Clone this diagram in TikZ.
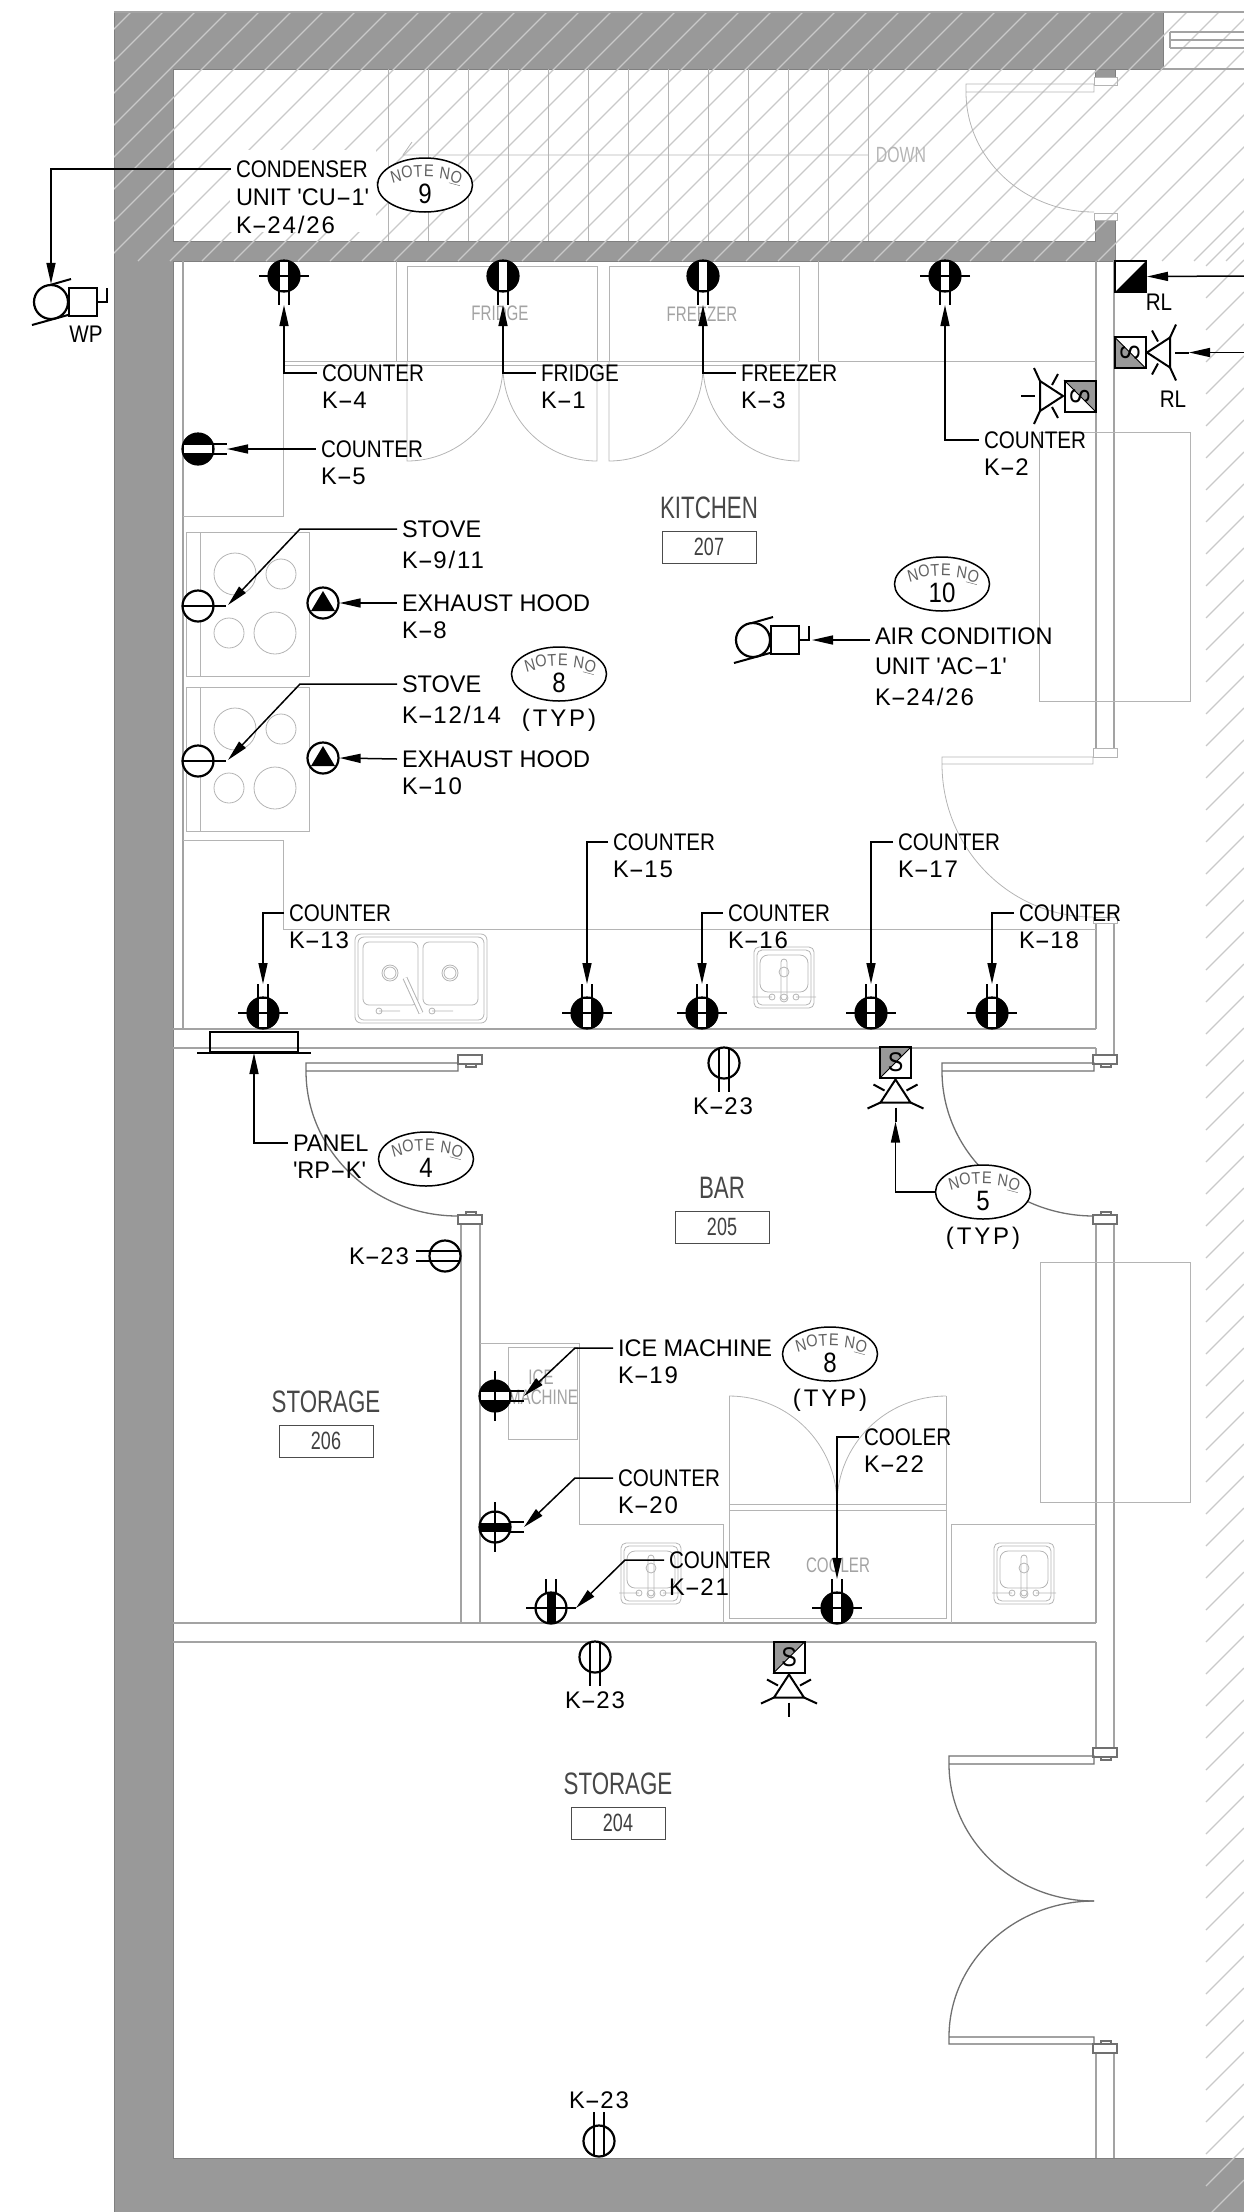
\documentclass[tikz,border=0pt]{standalone}
\usepackage{fontspec}
\setmainfont{Liberation Sans}
\newfontfamily\cadfont[FakeStretch=0.86]{Liberation Sans}
\newfontfamily\cadw[FakeStretch=0.98]{Liberation Sans}
\newfontfamily\cadnum[LetterSpace=8]{Liberation Sans}
\newfontfamily\typfont[LetterSpace=12]{Liberation Sans}
\newfontfamily\tagfont[FakeStretch=0.72]{Liberation Sans}
\usetikzlibrary{arrows.meta,positioning,shapes.geometric}
\definecolor{wallgrey}{HTML}{999999}
\definecolor{wallrim}{HTML}{7F7F7F}
\definecolor{hatchgrey}{HTML}{C9C9C9}
\definecolor{roomgrey}{HTML}{A3A3A3}
\definecolor{thingrey}{HTML}{B4B4B4}
\definecolor{doorgrey}{HTML}{707070}
\tikzset{
  hatchln/.style={draw=hatchgrey,line width=1.2pt},
  roomln/.style={draw=roomgrey,line width=1.3pt},
  thinln/.style={draw=thingrey,line width=.8pt},
  doorln/.style={draw=doorgrey,line width=1.3pt},
  sym/.style={draw=black,line width=2pt},
  lead/.style={draw=black,line width=1.5pt,-{Triangle[length=21pt,width=9pt]}},
  lbl/.style={anchor=west,inner sep=0pt,outer xsep=5pt,font=\cadfont\fontsize{24}{27}\selectfont},
  ctrlbl/.style={lbl,anchor=center,outer xsep=0pt},
  roomlbl/.style={inner sep=0pt,text=black!72,font=\tagfont\fontsize{31}{31}\selectfont},
  taglbl/.style={inner sep=0pt,text=black!75,font=\tagfont\fontsize{25}{25}\selectfont},
  faintlbl/.style={inner sep=0pt,text=roomgrey,font=\tagfont\fontsize{21}{21}\selectfont},
  tagbox/.style={draw=black!70,line width=.9pt},
  noteoval/.style={ellipse,draw=black,line width=1.5pt,fill=white,minimum width=95pt,minimum height=54pt,inner sep=0pt},
  notelet/.style={inner sep=0pt,text=black!62,font=\cadfont\fontsize{17}{17}\selectfont},
  notenum/.style={inner sep=0pt,font=\cadfont\fontsize{28}{28}\selectfont},
  rcp/.style={circle,draw=black,line width=2.2pt,fill=white,minimum size=31pt,inner sep=0pt},
  fixbox/.style={rectangle,draw=black,line width=2pt,minimum size=31pt,inner sep=0pt},
}
% long dash of the drawing's lettering, circuit numbers
\newcommand{\hy}{\scalebox{2}[1]{-}}
\newcommand{\kk}[1]{{\cadw K\hy{\cadnum #1}}}
\newcommand{\typ}{{\typfont (TYP)}}
% filled receptacle with a white strip, black band, cross line
\newcommand{\strip}{\fill (0,0) circle (15.5pt); \fill[white] (-4,-14) rectangle (4,14);}
\newcommand{\band}{\fill (-4.5,-15) rectangle (4.5,15);}
\newcommand{\crossln}{\draw[sym] (-25,0) -- (25,0);}
\newcommand{\tails}[1]{\draw[sym] (-5,#1) -- (-5,-29) (5,#1) -- (5,-29);}
% name, x, y, rotation, inner drawing
\newcommand{\recep}[5]{
  \begin{scope}[shift={(#2,#3)},rotate=#4]
    \node[rcp] (#1) at (0,0) {};
    #5
    \tails{-15}
    \coordinate (#1t) at (0,-29);
  \end{scope}
}
\newcommand{\twinline}[4]{
  \begin{scope}[shift={(#2,#3)},rotate=#4]
    \node[rcp] (#1) at (0,0) {};
    \tails{14}
  \end{scope}
}
\newcommand{\stovercp}[3]{
  \node[rcp] (#1) at (#2,#3) {};
  \draw[sym] (#2-15,#3) -- (#2+28,#3);
}
\newcommand{\hood}[3]{
  \node[rcp] (#1) at (#2,#3) {};
  \fill (#2,#3-12) -- (#2-12,#3+8) -- (#2+12,#3+8) -- cycle;
}
\newcommand{\motor}[3]{
  \begin{scope}[shift={(#2,#3)}]
    \node[rcp,minimum size=34pt] (#1) at (0,0) {};
    \node[fixbox,minimum size=28pt] (#1b) at (32,0) {};
    \draw[sym] (-1,-17) -- (20,-23) (-19,23) -- (17,13);
    \draw[sym] (46,0) -- (56,0) -- (56,-14);
    \coordinate (#1t) at (59,0);
  \end{scope}
}
\newcommand{\fixture}[4]{
  \begin{scope}[shift={(#2,#3)},rotate=#4]
    \fill[wallgrey] (-16,-16) -- (16,-16) -- (-16,16) -- cycle;
    \node[fixbox] (#1) at (0,0) {};
    \draw[black,line width=.9pt] (-16,16) -- (16,-16);
    \node[inner sep=0pt,transform shape,font=\cadfont\fontsize{27}{27}\selectfont] (#1s) at (0,0) {S};
    \draw[sym] (0,17) -- (-15,40) -- (15,40) -- cycle;
    \draw[sym] (-28,46) -- (-15,40) (28,46) -- (15,40) (-22,22) -- (-11,28) (22,22) -- (11,28);
    \draw[sym] (0,45) -- (0,59);
    \coordinate (#1t) at (0,59);
  \end{scope}
}
\newcommand{\notemark}[4]{
  \node[noteoval] (#1) at (#2,#3) {};
  \begin{scope}[shift={(#2,#3)}]
    \foreach \lx/\ly/\lr/\lc [count=\ci] in {-29/-9/15/N,-18/-13/8/O,-7/-14/3/T,4/-14/-2/E,20/-12/-8/N,31/-7/-15/{\underline{O}}}
      \node[notelet,rotate=\lr] (#1let\ci) at (\lx,\ly) {\lc};
    \node[notenum] (#1num) at (0,9) {#4};
  \end{scope}
}
% two lines of text, the first one carries the leader
\newcommand{\twolab}[5]{
  \node[lbl] (#1l) at (#2,#3) {#4};
  \node[lbl] (#1m) at (#2,#3+27) {#5};
}
\newcommand{\roomtag}[5]{
  \node[roomlbl] (#1l) at (#2,#3) {#4};
  \node[tagbox,minimum width=94pt,minimum height=32pt,inner sep=0pt,taglbl] (#1) at (#2,#3+39) {#5};
}
\newcommand{\stove}[1]{
  \begin{scope}[shift={(0,#1)}]
    \draw[thinln] (186,532) rectangle (309,676) (200,532) -- (200,676);
    \draw[thinln] (235,574) circle (21pt) (281,574) circle (15pt) (229,633) circle (15pt) (275,633) circle (21pt);
  \end{scope}
}
\newcommand{\sinkone}[2]{
  \begin{scope}[shift={(#1,#2)}]
    \draw[thinln,rounded corners=5pt] (-30,-31) rectangle (30,30) (-27,-28) rectangle (27,27);
    \draw[thinln,rounded corners=8pt] (-24,-23) rectangle (24,14);
    \draw[thinln,rounded corners=3pt] (-3,-19) rectangle (3,22);
    \draw[thinln] (0,-6) circle (5pt) (0,20) circle (4pt);
    \draw[thinln] (-32,19) -- (-12,19) (12,19) -- (32,19) (-12,19) circle (3pt) (12,19) circle (3pt);
  \end{scope}
}
\newcommand{\jamb}[3]{
  \draw[doorln] (#1-12,#2) rectangle (#1+12,#2+9);
  \draw[doorln] (#1-4,#2+#3) rectangle (#1+6,#2+#3+3);
}
\begin{document}
\begin{tikzpicture}[x=1pt,y=-1pt]
  \useasboundingbox (0,0) rectangle (1244,2212);
  % walls
  \filldraw[fill=wallgrey,draw=wallrim,line width=1pt] (114,12) -- (1163,12) -- (1163,69) -- (173,69) -- (173,241)
    -- (1095,241) -- (1095,220) -- (1115,220) -- (1115,261) -- (173,261) -- (173,2158) -- (1244,2158)
    -- (1244,2212) -- (114,2212) -- cycle;
  \filldraw[fill=wallgrey,draw=wallrim,line width=1pt] (1095,69) rectangle (1115,77);
  % hatching
  \begin{scope}
    \clip (114,12) rectangle (1244,261);
    \foreach \c in {143,175,...,1527}
      \draw[hatchln] (\c-12,12) -- (\c-261,261);
  \end{scope}
  \foreach \c in {1472,1504,...,3456}
    \draw[hatchln] (1206,\c-1206) -- (1244,\c-1244);
  \fill[white] (230,150) rectangle (376,232);
  \draw[roomln] (114,12) -- (1244,12) (1163,69) -- (1244,69) (1170,32) -- (1244,32) (1170,40) -- (1244,40) (1170,48) -- (1244,48) (1170,32) -- (1170,48);
  % stairs
  \foreach \s in {388,428,...,868}
    \draw[thinln] (\s,69) -- (\s,241);
  \draw[thinln] (412,142) -- (403,155) -- (868,155);
  \node[inner sep=0pt,text=thingrey,font=\tagfont\fontsize{22}{22}\selectfont] (downtxt) at (901,155) {DOWN};
  % partitions
  \draw[roomln] (173,1029) -- (1096,1029) (173,1048) -- (1096,1048) (173,1623) -- (1096,1623) (173,1642) -- (1096,1642);
  \draw[roomln] (183,261) -- (183,1029);
  \draw[roomln] (1096,261) -- (1096,748) (1114,261) -- (1114,748) (1096,923) -- (1096,1029) (1114,923) -- (1114,1055);
  \draw[roomln] (1096,1048) -- (1096,1055) (1096,1224) -- (1096,1623) (1114,1224) -- (1114,1748) (1096,1642) -- (1096,1748);
  \draw[roomln] (1096,2053) -- (1096,2158) (1114,2053) -- (1114,2158);
  \draw[roomln] (461,1224) -- (461,1623) (480,1224) -- (480,1623);
  % kitchen counters and fittings
  \draw[thinln] (183,516) -- (283,516) -- (283,361) -- (396,361) -- (396,261);
  \draw[thinln] (183,840) -- (283,840) -- (283,929) -- (1096,929);
  \draw[thinln] (283,365) -- (799,365) (396,361) -- (799,361) (818,261) -- (818,361) -- (1096,361);
  \draw[thinln] (407,361) -- (407,266) -- (597,266) -- (597,361) (609,361) -- (609,266) -- (799,266) -- (799,361);
  \draw[thinln] (407,361) -- (407,461) arc[start angle=270,end angle=360,radius=96pt] (597,365) -- (597,461) arc[start angle=270,end angle=180,radius=94pt];
  \draw[thinln] (609,361) -- (609,461) arc[start angle=270,end angle=360,radius=94pt] (799,365) -- (799,461) arc[start angle=270,end angle=180,radius=96pt];
  \draw[thinln] (1039,432) rectangle (1190,701) (1040,1262) rectangle (1190,1502);
  \stove{0}
  \stove{155}
  \begin{scope}[thinln]
    \draw[rounded corners=6pt] (355,934) rectangle (487,1023) (358,937) rectangle (484,1020);
    \draw[rounded corners=6pt] (363,942) rectangle (418,1005) (423,942) rectangle (478,1005);
    \draw (390,973) circle (8pt) (390,973) circle (6pt) (450,973) circle (8pt) (450,973) circle (6pt);
    \draw[line width=5pt,draw=thingrey] (405,978) -- (421,1013);
    \draw[line width=3pt,draw=white] (405,978) -- (421,1013);
    \draw (379,1011) -- (400,1011) (432,1011) -- (453,1011) (379,1011) circle (3pt) (432,1011) circle (3pt);
  \end{scope}
  \sinkone{784}{978}
  \sinkone{651}{1574}
  \sinkone{1024}{1574}
  % bar counters and fittings
  \draw[thinln] (480,1343) -- (579,1343) -- (579,1524) -- (723,1524) -- (723,1623);
  \draw[thinln] (508,1347) rectangle (577,1439);
  \draw[thinln] (951,1623) -- (951,1524) -- (1096,1524);
  \draw[thinln] (729,1396) -- (729,1618) -- (946,1618) -- (946,1396) (729,1504) -- (946,1504) (729,1510) -- (946,1510);
  \draw[thinln] (729,1396) arc[start angle=90,end angle=0,x radius=108pt,y radius=108pt] (946,1396) arc[start angle=90,end angle=180,x radius=109pt,y radius=108pt];
  % doors
  \draw[thinln] (966,84) rectangle (1094,92) (966,92) arc[start angle=180,end angle=270,x radius=128pt,y radius=120pt];
  \draw[thinln] (1094,77) rectangle (1117,85) (1094,213) rectangle (1117,220);
  \draw[thinln] (942,757) rectangle (1093,764) (942,764) arc[start angle=180,end angle=270,x radius=151pt,y radius=153pt];
  \draw[thinln] (1093,748) rectangle (1117,757) (1093,917) rectangle (1117,923);
  \draw[doorln] (942,1063) rectangle (1094,1071) (942,1071) arc[start angle=180,end angle=270,x radius=152pt,y radius=145pt];
  \jamb{1105}{1055}{9}
  \jamb{1105}{1215}{-3}
  \draw[doorln] (306,1063) rectangle (458,1071) (306,1071) arc[start angle=180,end angle=270,x radius=152pt,y radius=145pt];
  \jamb{470}{1055}{9}
  \jamb{470}{1215}{-3}
  \draw[doorln] (949,1756) rectangle (1094,1764) (949,1764) arc[start angle=180,end angle=270,x radius=145pt,y radius=137pt];
  \draw[doorln] (949,2037) rectangle (1094,2044) (949,2037) arc[start angle=180,end angle=90,x radius=145pt,y radius=136pt];
  \jamb{1105}{1748}{9}
  \jamb{1105}{2044}{-3}
  % fitting names
  \node[faintlbl] (fridgetxt) at (500,313) {FRIDGE};
  \node[faintlbl] (freezertxt) at (702,314) {FREEZER};
  \node[faintlbl] (icetxt) at (541,1377) {ICE};
  \node[faintlbl] (machinetxt) at (543,1397) {MACHINE};
  \node[faintlbl] (coolertxt) at (838,1565) {COOLER};
  % rooms
  \roomtag{r_207}{709}{508}{KITCHEN}{207}
  \roomtag{r_205}{722}{1188}{BAR}{205}
  \roomtag{r_206}{326}{1402}{STORAGE}{206}
  \roomtag{r_204}{618}{1784}{STORAGE}{204}
  % notes
  \notemark{n_9}{425}{185}{9}
  \notemark{n_10}{942}{584}{10}
  \notemark{n_8a}{559}{674}{8}
  \notemark{n_4}{426}{1159}{4}
  \notemark{n_5}{983}{1192}{5}
  \notemark{n_8b}{830}{1354}{8}
  \node[ctrlbl] (typ_a) at (559,720) {\typ};
  \node[ctrlbl] (typ_b) at (983,1238) {\typ};
  \node[ctrlbl] (typ_c) at (830,1400) {\typ};
  % receptacles
  \recep{k_4}{284}{276}{180}{\strip\crossln}
  \recep{k_1}{503}{276}{180}{\strip}
  \recep{k_3}{703}{276}{180}{\strip}
  \recep{k_2}{945}{276}{180}{\strip\crossln}
  \recep{k_5}{198}{449}{-90}{\strip}
  \recep{k_13}{263}{1013}{0}{\strip\crossln}
  \recep{k_15}{587}{1013}{0}{\strip\crossln}
  \recep{k_16}{702}{1013}{0}{\strip\crossln}
  \recep{k_17}{871}{1013}{0}{\strip\crossln}
  \recep{k_18}{992}{1013}{0}{\strip\crossln}
  \recep{k_19}{495}{1396}{-90}{\strip\crossln}
  \recep{k_20}{495}{1527}{-90}{\band\crossln}
  \recep{k_21}{551}{1608}{0}{\band\crossln}
  \recep{k_22}{837}{1608}{0}{\strip\crossln}
  \twinline{k_23a}{724}{1063}{180}
  \twinline{k_23b}{445}{1256}{90}
  \twinline{k_23c}{595}{1657}{180}
  \twinline{k_23d}{599}{2141}{0}
  \stovercp{k_9}{198}{606}
  \stovercp{k_12}{198}{761}
  \hood{k_8}{323}{603}
  \hood{k_10}{323}{758}
  \motor{cu_1}{51}{302}
  \motor{ac_1}{753}{640}
  % panel
  \node[rectangle,draw=black,line width=2pt,minimum width=88pt,minimum height=20pt,inner sep=0pt] (rp_k) at (254,1042) {};
  \draw[sym] (197,1053) -- (311,1053);
  \coordinate (rp_kt) at (254,1053);
  % lights
  \fixture{lt_a}{895.5}{1062.5}{0}
  \fixture{lt_b}{789}{1657.5}{0}
  \fixture{rl_2}{1130}{352.5}{90}
  \fixture{lt_c}{1080}{396}{-90}
  \node[fixbox] (rl_1) at (1130.5,276.5) {};
  \fill (1115,292) -- (1146,292) -- (1146,261) -- cycle;
  % labels
  \node[lbl] (cu_1l) at (231,169) {CONDENSER};
  \node[lbl] (cu_1m) at (231,197) {\cadw UNIT 'CU\hy 1'};
  \node[lbl] (cu_1n) at (231,225) {\kk{24/26}};
  \node[inner sep=0pt,font=\cadfont\fontsize{24}{24}\selectfont] (wp_txt) at (86,334) {WP};
  \twolab{k_4}{317}{373}{COUNTER}{\kk{4}}
  \twolab{k_1}{536}{373}{FRIDGE}{\kk{1}}
  \twolab{k_3}{736}{373}{FREEZER}{\kk{3}}
  \twolab{k_2}{979}{440}{COUNTER}{\kk{2}}
  \twolab{k_5}{316}{449}{COUNTER}{\kk{5}}
  \node[lbl] (k_9l) at (397,529) {\cadw STOVE};
  \node[lbl] (k_9m) at (397,560) {\kk{9/11}};
  \twolab{k_8}{397}{603}{\cadw EXHAUST HOOD}{\kk{8}}
  \node[lbl] (k_12l) at (397,684) {\cadw STOVE};
  \node[lbl] (k_12m) at (397,715) {\kk{12/14}};
  \twolab{k_10}{397}{759}{\cadw EXHAUST HOOD}{\kk{10}}
  \node[lbl] (ac_1l) at (870,636) {\cadw AIR CONDITION};
  \node[lbl] (ac_1m) at (870,666) {\cadw UNIT 'AC\hy 1'};
  \node[lbl] (ac_1n) at (870,697) {\kk{24/26}};
  \twolab{k_15}{608}{842}{COUNTER}{\kk{15}}
  \twolab{k_17}{893}{842}{COUNTER}{\kk{17}}
  \twolab{k_13}{284}{913}{COUNTER}{\kk{13}}
  \twolab{k_16}{723}{913}{COUNTER}{\kk{16}}
  \twolab{k_18}{1014}{913}{COUNTER}{\kk{18}}
  \twolab{rp_k}{288}{1143}{\cadw PANEL}{\cadw 'RP\hy K'}
  \twolab{k_19}{613}{1348}{\cadw ICE MACHINE}{\kk{19}}
  \twolab{k_20}{613}{1478}{COUNTER}{\kk{20}}
  \twolab{k_21}{664}{1560}{COUNTER}{\kk{21}}
  \twolab{k_22}{859}{1437}{COOLER}{\kk{22}}
  \node[ctrlbl] (k_23al) at (723,1106) {\kk{23}};
  \node[ctrlbl] (k_23bl) at (379,1256) {\kk{23}};
  \node[ctrlbl] (k_23cl) at (595,1700) {\kk{23}};
  \node[ctrlbl] (k_23dl) at (599,2100) {\kk{23}};
  \node[inner sep=0pt,font=\cadfont\fontsize{24}{24}\selectfont] (rl_1l) at (1159,302) {RL};
  \node[inner sep=0pt,font=\cadfont\fontsize{24}{24}\selectfont] (rl_2l) at (1173,399) {RL};
  % leaders
  \coordinate (rl_1e) at (1244,276);
  \coordinate (rl_2e) at (1244,352.5);
  \coordinate (k_9b) at (300,529);
  \coordinate (k_12b) at (300,684);
  \coordinate (k_9t) at (228,605);
  \coordinate (k_12t) at (228,760);
  \coordinate (k_19b) at (575,1348);
  \coordinate (k_20b) at (575,1478);
  \coordinate (k_21b) at (625,1560);
  \coordinate (k_21t) at (576,1608);
  \draw[lead] (cu_1l.west) -| (cu_1.north);
  \draw[lead] (k_4l.west) -| (k_4t);
  \draw[lead] (k_1l.west) -| (k_1t);
  \draw[lead] (k_3l.west) -| (k_3t);
  \draw[lead] (k_2l.west) -| (k_2t);
  \draw[lead] (k_5l.west) -- (k_5t);
  \draw[lead] (k_9l.west) -- (k_9b) -- (k_9t);
  \draw[lead] (k_12l.west) -- (k_12b) -- (k_12t);
  \draw[lead] (k_8l.west) -- (k_8.east);
  \draw[lead] (k_10l.west) -- (k_10.east);
  \draw[lead] (ac_1l.west |- ac_1t) -- (ac_1t);
  \draw[lead] (k_13l.west) -| (k_13t);
  \draw[lead] (k_15l.west) -| (k_15t);
  \draw[lead] (k_16l.west) -| (k_16t);
  \draw[lead] (k_17l.west) -| (k_17t);
  \draw[lead] (k_18l.west) -| (k_18t);
  \draw[lead] (rp_kl.west) -| (rp_kt);
  \draw[lead] (n_5.west) -| (lt_at);
  \draw[lead] (k_19l.west) -- (k_19b) -- (k_19t);
  \draw[lead] (k_20l.west) -- (k_20b) -- (k_20t);
  \draw[lead] (k_21l.west) -- (k_21b) -- (k_21t);
  \draw[lead] (k_22l.west) -| (k_22t);
  \draw[lead] (rl_1e) -- (rl_1.east);
  \draw[lead] (rl_2e) -- (rl_2t);
\end{tikzpicture}
\end{document}
